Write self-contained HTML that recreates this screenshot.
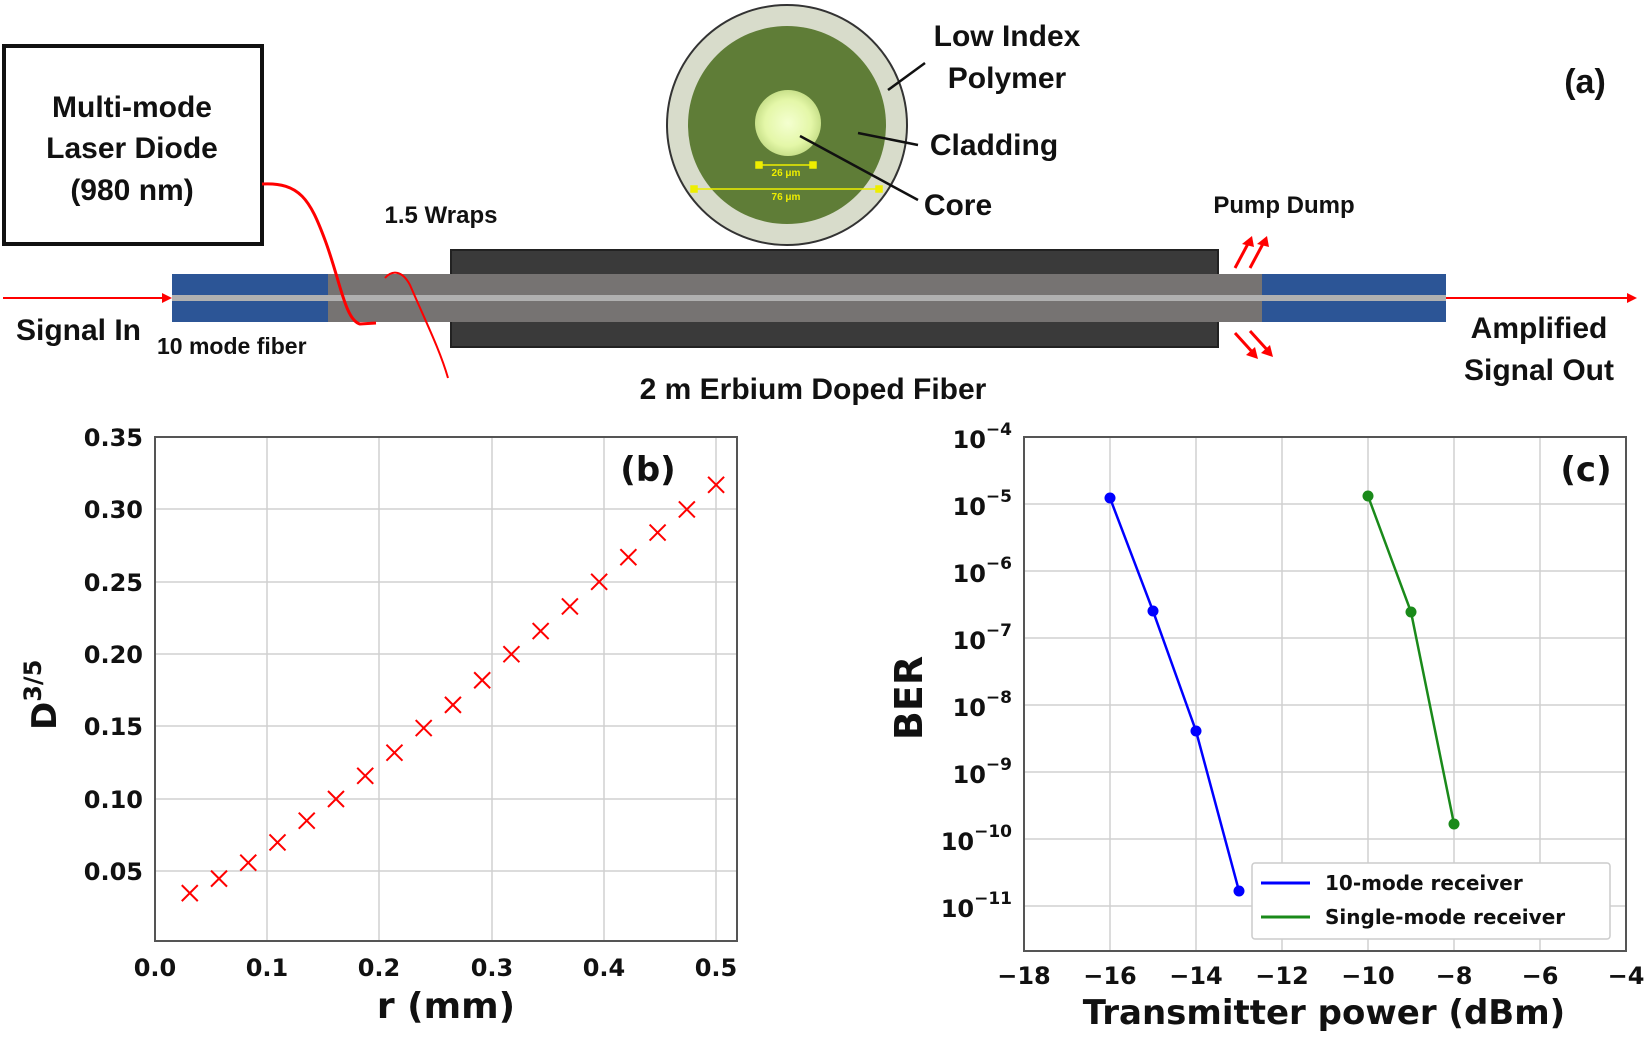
<!DOCTYPE html>
<html><head><meta charset="utf-8"><style>body{margin:0;background:#fff}svg{display:block}text{font-family:"Liberation Sans",sans-serif;font-weight:bold;fill:#111}.dv text,text.dv{font-family:"DejaVu Sans",sans-serif}</style></head><body>
<svg width="1645" height="1037" viewBox="0 0 1645 1037" xmlns="http://www.w3.org/2000/svg">
<defs><radialGradient id="cg"><stop offset="0" stop-color="#f4ffd0"/><stop offset="0.7" stop-color="#e4f7a8"/><stop offset="1" stop-color="#c8e08a"/></radialGradient></defs>
<!-- panel a -->
<rect x="4" y="46" width="258" height="198" fill="#fff" stroke="#111" stroke-width="4"/>
<text x="132" y="117" font-size="30" text-anchor="middle">Multi-mode</text>
<text x="132" y="158" font-size="30" text-anchor="middle">Laser Diode</text>
<text x="132" y="200" font-size="30" text-anchor="middle">(980 nm)</text>
<rect x="451" y="250" width="767" height="97" fill="#3a3a3a" stroke="#222" stroke-width="2"/>
<rect x="328" y="274" width="934" height="48" fill="#767372"/>
<rect x="172" y="274" width="156" height="48" fill="#2c5596"/>
<rect x="1262" y="274" width="184" height="48" fill="#2c5596"/>
<rect x="172" y="295" width="1274" height="6" fill="#b0b0b0"/>
<line x1="3" y1="298" x2="166" y2="298" stroke="#f00" stroke-width="2"/><polygon points="172,298 162,293 162,303" fill="#f00"/>
<line x1="1446" y1="298" x2="1630" y2="298" stroke="#f00" stroke-width="2"/><polygon points="1637,298 1627,293 1627,303" fill="#f00"/>
<path d="M262,184 C300,182 310,200 325,240 C340,280 345,320 360,324 L376,323" fill="none" stroke="#f00" stroke-width="3"/>
<path d="M385,278 C392,270 402,270 410,285 C425,320 440,350 448,378" fill="none" stroke="#f00" stroke-width="2"/>
<g stroke="#f00" stroke-width="3"><line x1="1235" y1="268" x2="1250" y2="240"/><line x1="1250" y1="268" x2="1265" y2="240"/><line x1="1235" y1="333" x2="1255" y2="355"/><line x1="1250" y1="331" x2="1270" y2="353"/></g>
<g fill="#f00"><polygon points="1252,236 1242,244 1254,247"/><polygon points="1267,236 1257,244 1269,247"/><polygon points="1258,359 1246,355 1255,347"/><polygon points="1273,357 1261,353 1270,345"/></g>
<circle cx="787" cy="125" r="120" fill="#d8dccb" stroke="#333" stroke-width="2"/>
<circle cx="787" cy="125" r="99" fill="#5f7d37"/>
<circle cx="788" cy="123" r="33" fill="url(#cg)"/>
<g stroke="#ee0" stroke-width="1.5" fill="#ee0"><line x1="759" y1="165" x2="813" y2="165"/><rect x="756" y="162" width="6" height="6"/><rect x="810" y="162" width="6" height="6"/><line x1="694" y1="189" x2="879" y2="189"/><rect x="691" y="186" width="6" height="6"/><rect x="876" y="186" width="6" height="6"/></g>
<text x="786" y="176" font-size="10" style="fill:#ee0" text-anchor="middle">26 μm</text>
<text x="786" y="200" font-size="10" style="fill:#ee0" text-anchor="middle">76 μm</text>
<g stroke="#111" stroke-width="2.5"><line x1="925" y1="63" x2="888" y2="90"/><line x1="918" y1="145" x2="858" y2="133"/><line x1="918" y1="200" x2="800" y2="136"/></g>
<text x="1007" y="46" font-size="30" text-anchor="middle">Low Index</text>
<text x="1007" y="88" font-size="30" text-anchor="middle">Polymer</text>
<text x="994" y="155" font-size="30" text-anchor="middle">Cladding</text>
<text x="958" y="215" font-size="30" text-anchor="middle">Core</text>
<text x="1585" y="93" font-size="34" text-anchor="middle">(a)</text>
<text x="441" y="223" font-size="24" text-anchor="middle">1.5 Wraps</text>
<text x="1284" y="213" font-size="24" text-anchor="middle">Pump Dump</text>
<text x="16" y="340" font-size="30">Signal In</text>
<text x="157" y="354" font-size="23">10 mode fiber</text>
<text x="813" y="399" font-size="30" text-anchor="middle">2 m Erbium Doped Fiber</text>
<text x="1539" y="338" font-size="30" text-anchor="middle">Amplified</text>
<text x="1539" y="380" font-size="30" text-anchor="middle">Signal Out</text>
<!-- panel b -->
<g stroke="#d0d0d0" stroke-width="1.5">
<line x1="267" y1="437" x2="267" y2="941"/><line x1="379" y1="437" x2="379" y2="941"/><line x1="492" y1="437" x2="492" y2="941"/><line x1="604" y1="437" x2="604" y2="941"/><line x1="716" y1="437" x2="716" y2="941"/>
<line x1="155" y1="509" x2="737" y2="509"/><line x1="155" y1="582" x2="737" y2="582"/><line x1="155" y1="654" x2="737" y2="654"/><line x1="155" y1="726" x2="737" y2="726"/><line x1="155" y1="799" x2="737" y2="799"/><line x1="155" y1="871" x2="737" y2="871"/>
</g>
<rect x="155" y="437" width="582" height="504" fill="none" stroke="#555" stroke-width="2"/>
<g class="dv">
<g font-size="24" text-anchor="end"><text x="143" y="446">0.35</text><text x="143" y="518">0.30</text><text x="143" y="591">0.25</text><text x="143" y="663">0.20</text><text x="143" y="735">0.15</text><text x="143" y="808">0.10</text><text x="143" y="880">0.05</text></g>
<g font-size="24" text-anchor="middle"><text x="155" y="976">0.0</text><text x="267" y="976">0.1</text><text x="379" y="976">0.2</text><text x="492" y="976">0.3</text><text x="604" y="976">0.4</text><text x="716" y="976">0.5</text></g>
<text x="446" y="1018" font-size="36" text-anchor="middle">r (mm)</text>
<text transform="translate(56,730) rotate(-90)" font-size="34">D<tspan font-size="24" dy="-15">3/5</tspan></text>
<text x="648" y="481" font-size="34" text-anchor="middle">(b)</text>
</g>
<g id="pts" stroke="#f00" stroke-width="2"></g>
<!-- panel c -->
<g stroke="#d0d0d0" stroke-width="1.5">
<line x1="1110" y1="437" x2="1110" y2="951"/><line x1="1196" y1="437" x2="1196" y2="951"/><line x1="1282" y1="437" x2="1282" y2="951"/><line x1="1368" y1="437" x2="1368" y2="951"/><line x1="1454" y1="437" x2="1454" y2="951"/><line x1="1540" y1="437" x2="1540" y2="951"/>
<line x1="1024" y1="504" x2="1626" y2="504"/><line x1="1024" y1="571" x2="1626" y2="571"/><line x1="1024" y1="638" x2="1626" y2="638"/><line x1="1024" y1="705" x2="1626" y2="705"/><line x1="1024" y1="772" x2="1626" y2="772"/><line x1="1024" y1="839" x2="1626" y2="839"/><line x1="1024" y1="906" x2="1626" y2="906"/>
</g>
<rect x="1024" y="437" width="602" height="514" fill="none" stroke="#555" stroke-width="2"/>
<g class="dv">
<g font-size="24" text-anchor="end"><text x="1012" y="448">10<tspan font-size="17" dy="-13">−4</tspan></text><text x="1012" y="515">10<tspan font-size="17" dy="-13">−5</tspan></text><text x="1012" y="582">10<tspan font-size="17" dy="-13">−6</tspan></text><text x="1012" y="649">10<tspan font-size="17" dy="-13">−7</tspan></text><text x="1012" y="716">10<tspan font-size="17" dy="-13">−8</tspan></text><text x="1012" y="783">10<tspan font-size="17" dy="-13">−9</tspan></text><text x="1012" y="850">10<tspan font-size="17" dy="-13">−10</tspan></text><text x="1012" y="917">10<tspan font-size="17" dy="-13">−11</tspan></text></g>
<g font-size="24" text-anchor="middle"><text x="1024" y="984">−18</text><text x="1110" y="984">−16</text><text x="1196" y="984">−14</text><text x="1282" y="984">−12</text><text x="1368" y="984">−10</text><text x="1454" y="984">−8</text><text x="1540" y="984">−6</text><text x="1626" y="984">−4</text></g>
<text x="1324" y="1024" font-size="34" text-anchor="middle">Transmitter power (dBm)</text>
<text transform="translate(922,698) rotate(-90)" font-size="38" text-anchor="middle">BER</text>
<text x="1586" y="481" font-size="34" text-anchor="middle">(c)</text>
</g>
<polyline points="1110,498 1153,611 1196,731 1239,891" fill="none" stroke="#00f" stroke-width="2.5"/>
<g fill="#00f"><circle cx="1110" cy="498" r="5.5"/><circle cx="1153" cy="611" r="5.5"/><circle cx="1196" cy="731" r="5.5"/><circle cx="1239" cy="891" r="5.5"/></g>
<polyline points="1368,496 1411,612 1454,824" fill="none" stroke="#1a8a1a" stroke-width="2.5"/>
<g fill="#1a8a1a"><circle cx="1368" cy="496" r="5.5"/><circle cx="1411" cy="612" r="5.5"/><circle cx="1454" cy="824" r="5.5"/></g>
<rect x="1252" y="863" width="358" height="76" fill="#fff" stroke="#ccc" stroke-width="1.5" rx="3"/>
<line x1="1261" y1="883" x2="1310" y2="883" stroke="#00f" stroke-width="3"/>
<line x1="1261" y1="917" x2="1310" y2="917" stroke="#1a8a1a" stroke-width="3"/>
<g class="dv"><text x="1325" y="890" font-size="20">10-mode receiver</text>
<text x="1325" y="924" font-size="20">Single-mode receiver</text></g>
</svg>
<script>
var g=document.getElementById('pts');var ys=[.035,.045,.056,.07,.085,.1,.116,.132,.149,.165,.182,.2,.216,.233,.25,.267,.284,.3,.317];
var s='';for(var i=0;i<19;i++){var x=155+(0.031+i*0.02606)*1122,y=437+(0.35-ys[i])*1448;s+='<line x1="'+(x-8)+'" y1="'+(y-8)+'" x2="'+(x+8)+'" y2="'+(y+8)+'"/><line x1="'+(x-8)+'" y1="'+(y+8)+'" x2="'+(x+8)+'" y2="'+(y-8)+'"/>';}
g.innerHTML=s;
</script>
</body></html>
